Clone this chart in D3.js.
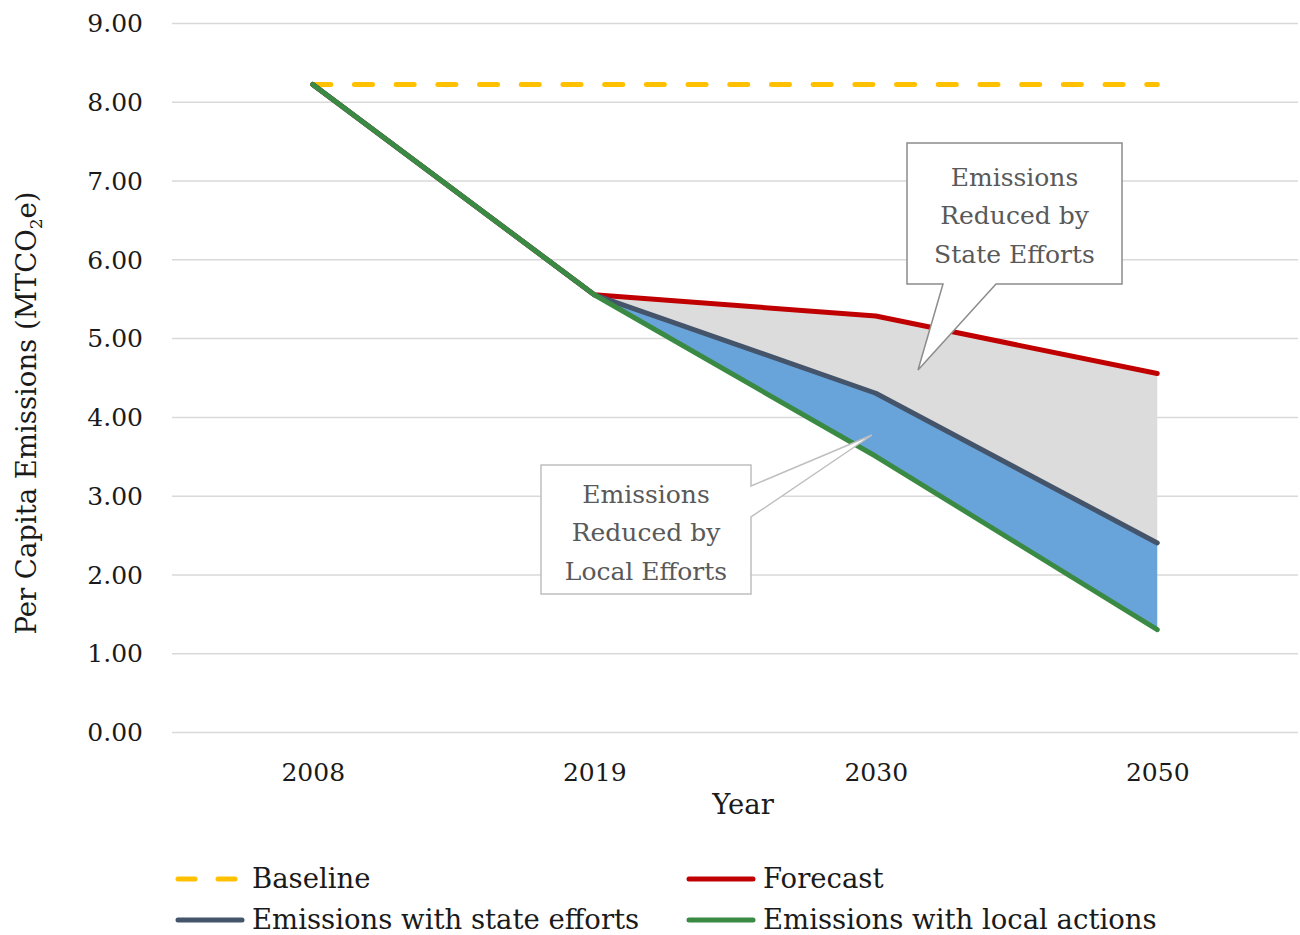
<!DOCTYPE html>
<html>
<head>
<meta charset="utf-8">
<script src="https://cdn.jsdelivr.net/npm/d3@7"></script>
<style>
  body { margin: 0; background: #fff; }
  text { font-family: "DejaVu Serif", "Liberation Serif", serif; }
</style>
</head>
<body>
<div id="chart"></div>
<script>
// data
var years = ["2008", "2019", "2030", "2050"];
var baseline = [8.22, 8.22, 8.22, 8.22];
var forecast = [8.22, 5.55, 5.28, 4.55];
var stateEfforts = [8.22, 5.55, 4.30, 2.40];
var localActions = [8.22, 5.55, 3.50, 1.30];
var yTicks = [0, 1, 2, 3, 4, 5, 6, 7, 8, 9];
var legendItems = ["Baseline", "Forecast", "Emissions with state efforts", "Emissions with local actions"];

var width = 1300;
var height = 935;
var plotLeft = 172, plotRight = 1298, plotTop = 23, plotBottom = 732;
var fontSize = "25px";
var bigFont = "27.5px";

var svg = d3.select("#chart")
	.append("svg")
	.attr("width", width)
	.attr("height", height);

var x = d3.scalePoint().domain(years).range([plotLeft, plotRight]).padding(0.5);
var y = d3.scaleLinear().domain([0, 9]).range([plotBottom, plotTop]);

// gridlines + y labels
var yAxis = d3.axisLeft(y)
	.tickValues(yTicks)
	.tickSize(-(plotRight - plotLeft))
	.tickPadding(29)
	.tickFormat(d3.format(".2f"));

var gy = svg.append("g")
	.attr("transform", "translate(" + plotLeft + ",0)")
	.call(yAxis);
gy.select(".domain").remove();
gy.selectAll(".tick line").attr("stroke", "#d9d9d9").attr("stroke-width", 1.5);
gy.selectAll(".tick text")
	.attr("fill", "#1a1a1a")
	.style("font-size", fontSize)
	.attr("dy", "0.35em");

// x labels
var xAxis = d3.axisBottom(x).tickSize(0).tickPadding(31);
var gx = svg.append("g")
	.attr("transform", "translate(0," + plotBottom + ")")
	.call(xAxis);
gx.select(".domain").remove();
gx.selectAll(".tick text")
	.attr("fill", "#1a1a1a")
	.style("font-size", fontSize);

// axis titles
svg.append("text")
	.attr("x", 743)
	.attr("y", 814)
	.attr("text-anchor", "middle")
	.attr("fill", "#1a1a1a")
	.style("font-size", bigFont)
	.text("Year");

var ytitle = svg.append("text")
	.attr("transform", "translate(36,413) rotate(-90)")
	.attr("text-anchor", "middle")
	.attr("fill", "#1a1a1a")
	.style("font-size", bigFont);
ytitle.append("tspan").text("Per Capita Emissions (MTCO");
ytitle.append("tspan").attr("dy", 6).style("font-size", "17px").text("2");
ytitle.append("tspan").attr("dy", -6).text("e)");

// areas from 2019 on
var idx = [1, 2, 3];
var grayArea = d3.area()
	.x(function(i) { return x(years[i]); })
	.y0(function(i) { return y(stateEfforts[i]); })
	.y1(function(i) { return y(forecast[i]); });
var blueArea = d3.area()
	.x(function(i) { return x(years[i]); })
	.y0(function(i) { return y(localActions[i]); })
	.y1(function(i) { return y(stateEfforts[i]); });

svg.append("path").attr("d", grayArea(idx)).attr("fill", "#dcdcdc");
svg.append("path").attr("d", blueArea(idx)).attr("fill", "#68a4da");

// lines
var line = d3.line()
	.x(function(d, i) { return x(years[i]); })
	.y(function(d) { return y(d); });

var series = [
	{ values: baseline, color: "#ffc000", dash: "18,23.7" },
	{ values: forecast, color: "#c00000" },
	{ values: stateEfforts, color: "#44546a" },
	{ values: localActions, color: "#3a8a44" }
];

series.forEach(function(s) {
	svg.append("path")
		.attr("d", line(s.values))
		.attr("fill", "none")
		.attr("stroke", s.color)
		.attr("stroke-width", 5)
		.attr("stroke-linecap", "round")
		.attr("stroke-linejoin", "round")
		.attr("stroke-dasharray", s.dash || null);
});

// callouts
function callout(box, tip, base, lines, lineY, border) {
	var bx = box[0], by = box[1], bw = box[2], bh = box[3];
	var g = svg.append("g");
	var pts;
	if (base.side == "bottom") {
		pts = [[bx, by], [bx + bw, by], [bx + bw, by + bh], [base.b, by + bh], tip, [base.a, by + bh], [bx, by + bh]];
	} else {
		pts = [[bx, by], [bx + bw, by], [bx + bw, base.a], tip, [bx + bw, base.b], [bx + bw, by + bh], [bx, by + bh]];
	}
	g.append("path")
		.attr("d", "M" + pts.join("L") + "Z")
		.attr("fill", "#fff")
		.attr("stroke", border)
		.attr("stroke-width", 1.5);
	lines.forEach(function(t, i) {
		g.append("text")
			.attr("x", bx + bw / 2)
			.attr("y", lineY[i])
			.attr("text-anchor", "middle")
			.attr("fill", "#595959")
			.style("font-size", fontSize)
			.text(t);
	});
}

callout([907, 143, 215, 141], [918, 370], { side: "bottom", a: 943, b: 996 },
	["Emissions", "Reduced by", "State Efforts"], [186, 224, 263], "#8c8c8c");
callout([541, 465, 210, 129], [872, 435], { side: "right", a: 486, b: 517 },
	["Emissions", "Reduced by", "Local Efforts"], [503, 541, 580], "#bfbfbf");

// legend
var legendPos = [[175, 879], [686, 879], [175, 920], [686, 920]];
legendItems.forEach(function(name, i) {
	var s = series[i];
	var p = legendPos[i];
	svg.append("line")
		.attr("x1", p[0] + 3).attr("x2", p[0] + 67)
		.attr("y1", p[1]).attr("y2", p[1])
		.attr("stroke", s.color)
		.attr("stroke-width", 5)
		.attr("stroke-linecap", "round")
		.attr("stroke-dasharray", s.dash ? "17,23" : null);
	svg.append("text")
		.attr("x", p[0] + 77)
		.attr("y", p[1] + 9)
		.attr("fill", "#1a1a1a")
		.style("font-size", bigFont)
		.text(name);
});
</script>
</body>
</html>
